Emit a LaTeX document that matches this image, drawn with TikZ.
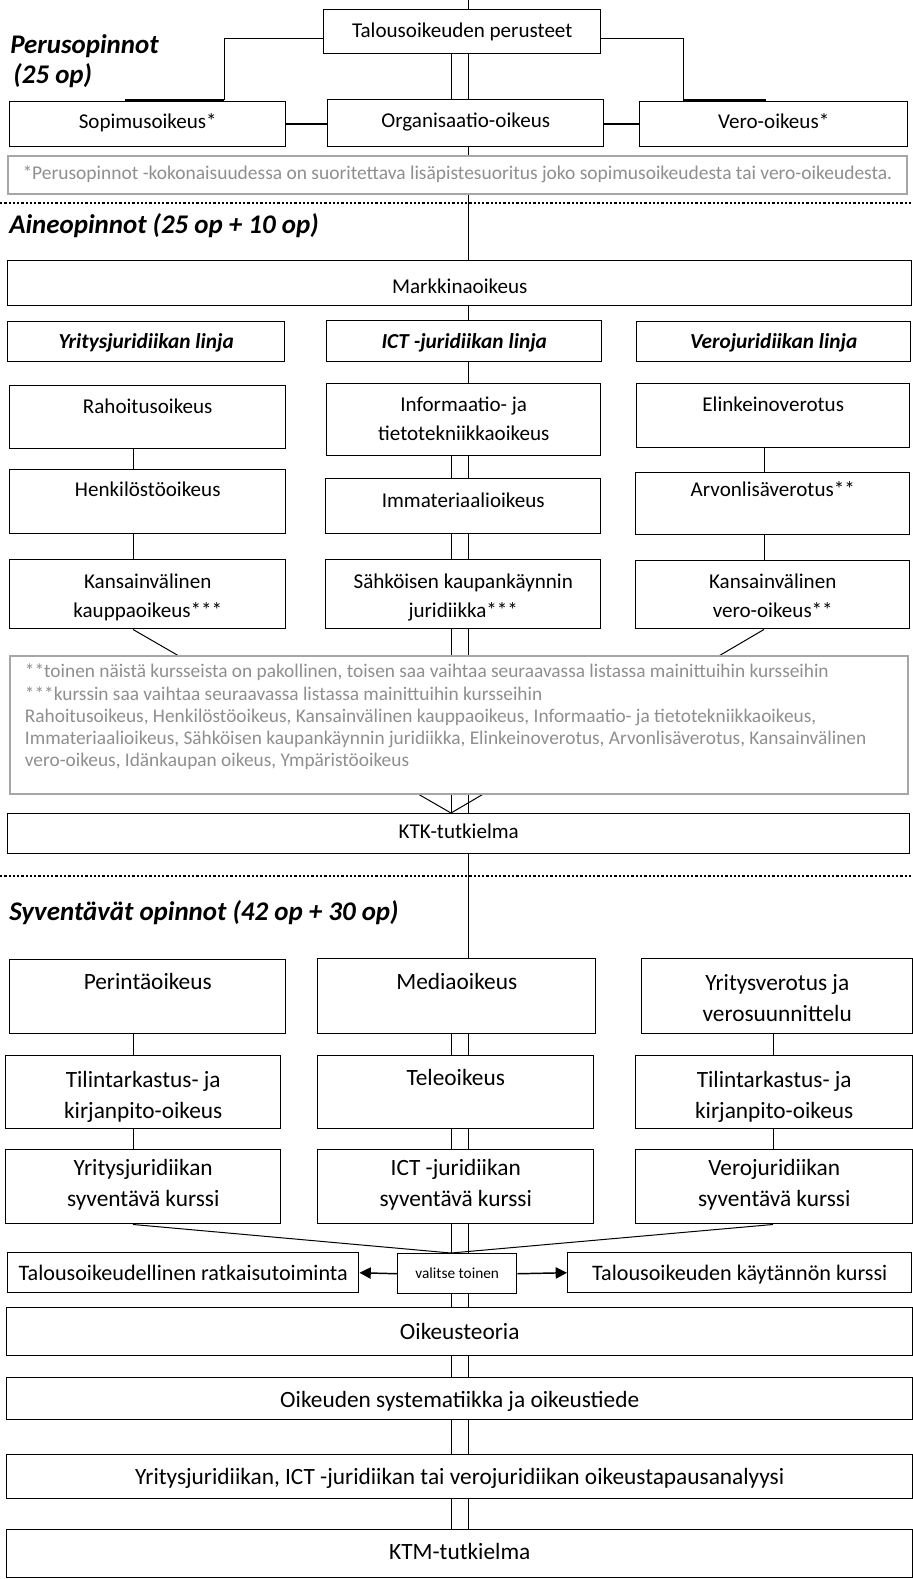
\documentclass[tikz,border=0pt]{standalone}
\usepackage{fontspec}
\setmainfont{Carlito}
\usetikzlibrary{arrows.meta,backgrounds}
\newlength\uu
\setlength\uu{0.75pt}
% box content: width, height, first baseline from top, text
\newcommand\bx[4]{\parbox[c][#2\uu][t]{#1\uu}{\centering\vspace*{\dimexpr#3\uu-0.7\baselineskip\relax}\strut#4\par}}
% left aligned box content: width, height, first baseline, left pad, text
\newcommand\bxl[5]{\parbox[c][#2\uu][t]{#1\uu}{\raggedright\leftskip=#4\uu\vspace*{\dimexpr#3\uu-0.7\baselineskip\relax}\strut#5\par}}
\definecolor{notegray}{HTML}{8F8F8F}
\definecolor{noteborder}{HTML}{A6A6A6}
\tikzset{
  box/.style={draw=black, line width=1.1pt, fill=white, inner sep=0pt, anchor=north west},
  notebox/.style={draw=noteborder, line width=1.4pt, fill=white, inner sep=0pt, anchor=north west, text=notegray},
  aine/.style={font=\fontsize{15.8pt}{21.75pt}\selectfont},
  mid/.style={font=\fontsize{16.6pt}{21.75pt}\selectfont},
  syv/.style={font=\fontsize{17.5pt}{23.25pt}\selectfont},
  linja/.style={font=\fontsize{16pt}{19pt}\selectfont\bfseries\itshape},
  notefont/.style={font=\fontsize{14.6pt}{17pt}\selectfont},
  note2font/.style={font=\fontsize{14.5pt}{16.65pt}\selectfont},
  smallfont/.style={font=\fontsize{11.5pt}{13pt}\selectfont},
  head/.style={font=\fontsize{20.2pt}{24pt}\selectfont\bfseries\itshape, inner sep=0pt, anchor=base west},
  conn/.style={draw=black, line width=0.75pt},
  thickconn/.style={draw=black, line width=1.5pt},
  dotline/.style={draw=black, line width=2pt, dash pattern=on 1.7pt off 1.5pt},
  arr/.style={draw=black, line width=1.1pt, -{Triangle[length=8.5pt,width=8.5pt]}}
}
\begin{document}
\begin{tikzpicture}[x=0.75pt,y=-0.75pt]
\useasboundingbox (0,0) rectangle (913,1579);
% helper coordinates
\coordinate (top) at (468,0);
\coordinate (cL) at (451,0);
\coordinate (cR) at (468,0);
\coordinate (lc) at (133,0);
\coordinate (rc) at (764,0);
\coordinate (rc2) at (773,0);
\coordinate (e1) at (224,38);
\coordinate (e2) at (683,38);
\coordinate (s1) at (125,100);
\coordinate (s2) at (766,100);
\coordinate (d1a) at (0,203);
\coordinate (d1b) at (913,203);
\coordinate (d2a) at (0,876);
\coordinate (d2b) at (913,876);

% headings
\node[head] (h1a) at (10,53) {Perusopinnot};
\node[head] (h1b) at (10,83) {\hspace*{0.12em}(25 op)};
\node[head] (h2) at (9,233) {Aineopinnot (25 op + 10 op)};
\node[head] (h3) at (9,920) {Syventävät opinnot (42 op + 30 op)};

% Perusopinnot
\node[box,aine] (talous) at (323,9) {\bx{277}{44}{28}{Talousoikeuden perusteet}};
\node[box,aine] (sopimus) at (9,101) {\bx{276}{45}{27}{Sopimusoikeus*}};
\node[box,aine] (org) at (327,99) {\bx{276}{47}{28}{Organisaatio-oikeus}};
\node[box,aine] (vero) at (639,101) {\bx{268}{45}{27}{Vero-oikeus*}};
\node[notebox,notefont] (note1) at (7,155) {\bx{899}{38}{24}{*Perusopinnot -kokonaisuudessa on suoritettava lisäpistesuoritus joko sopimusoikeudesta tai vero-oikeudesta.}};

% Aineopinnot
\node[box,aine] (markk) at (7,260) {\bx{904}{45}{33}{Markkinaoikeus}};
\node[box,linja] (lyr) at (7,321) {\bx{277}{40}{27}{Yritysjuridiikan linja}};
\node[box,linja] (lict) at (326,320) {\bx{275}{41}{28}{ICT -juridiikan linja}};
\node[box,linja] (lvero) at (636,321) {\bx{274}{40}{27}{Verojuridiikan linja}};
\node[box,aine] (rah) at (9,385) {\bx{276}{63}{28}{Rahoitusoikeus}};
\node[box,aine] (info) at (326,383) {\bx{274}{72}{28}{Informaatio- ja\\tietotekniikkaoikeus}};
\node[box,aine] (elink) at (636,383) {\bx{273}{64}{28}{Elinkeinoverotus}};
\node[box,aine] (henk) at (9,469) {\bx{276}{64}{27}{Henkilöstöoikeus}};
\node[box,aine] (imm) at (325,478) {\bx{275}{55}{29}{Immateriaalioikeus}};
\node[box,aine] (arvo) at (635,472) {\bx{274}{62}{24}{Arvonlisäverotus**}};
\node[box,aine] (kans) at (9,559) {\bx{276}{69}{29}{Kansainvälinen\\kauppaoikeus***}};
\node[box,aine] (sahk) at (325,559) {\bx{275}{69}{29}{Sähköisen kaupankäynnin\\juridiikka***}};
\node[box,aine] (kvero) at (635,560) {\bx{274}{68}{28}{Kansainvälinen\\vero-oikeus**}};
\node[notebox,note2font] (note2) at (9,655) {\bxl{898}{138}{22}{15}{\mbox{**toinen näistä kursseista on pakollinen, toisen saa vaihtaa seuraavassa listassa mainittuihin kursseihin}\\
\mbox{***kurssin saa vaihtaa seuraavassa listassa mainittuihin kursseihin}\\
\mbox{Rahoitusoikeus, Henkilöstöoikeus, Kansainvälinen kauppaoikeus, Informaatio- ja tietotekniikkaoikeus,}\\
\mbox{Immateriaalioikeus, Sähköisen kaupankäynnin juridiikka, Elinkeinoverotus, Arvonlisäverotus, Kansainvälinen}\\
\mbox{vero-oikeus, Idänkaupan oikeus, Ympäristöoikeus}}};
\node[box,aine] (ktk) at (7,813) {\bx{902}{40}{25}{KTK-tutkielma}};

% Syventavat
\node[box,syv] (per) at (9,959) {\bx{276}{74}{30}{Perintäoikeus}};
\node[box,syv] (media) at (317,958) {\bx{278}{75}{31}{Mediaoikeus}};
\node[box,syv] (yver) at (641,958) {\bx{271}{75}{32}{Yritysverotus ja\\verosuunnittelu}};
\node[box,syv] (tilL) at (5,1055) {\bx{275}{73}{32}{Tilintarkastus- ja\\kirjanpito-oikeus}};
\node[box,syv] (tele) at (317,1055) {\bx{276}{73}{30}{Teleoikeus}};
\node[box,syv] (tilR) at (635,1055) {\bx{277}{73}{32}{Tilintarkastus- ja\\kirjanpito-oikeus}};
\node[box,syv] (syvY) at (5,1149) {\bx{275}{74}{26}{Yritysjuridiikan\\syventävä kurssi}};
\node[box,syv] (syvI) at (317,1149) {\bx{276}{74}{26}{ICT -juridiikan\\syventävä kurssi}};
\node[box,syv] (syvV) at (635,1149) {\bx{277}{74}{26}{Verojuridiikan\\syventävä kurssi}};
\node[box,mid] (ratk) at (7,1252) {\bx{351}{40}{28}{Talousoikeudellinen ratkaisutoiminta}};
\node[box,smallfont] (valitse) at (397,1253) {\bx{119}{40}{25}{valitse toinen}};
\node[box,mid] (kayt) at (567,1252) {\bx{344}{40}{28}{Talousoikeuden käytännön kurssi}};
\node[box,syv] (teoria) at (6,1307) {\bx{906}{48}{32}{Oikeusteoria}};
\node[box,syv] (syst) at (6,1377) {\bx{906}{42}{30}{Oikeuden systematiikka ja oikeustiede}};
\node[box,syv] (anal) at (6,1454) {\bx{906}{44}{30}{Yritysjuridiikan, ICT -juridiikan tai verojuridiikan oikeustapausanalyysi}};
\node[box,syv] (ktm) at (6,1529) {\bx{906}{48}{30}{KTM-tutkielma}};

% separators
\draw[dotline] (d1a) -- (d1b);
\draw[dotline] (d2a) -- (d2b);

% arrows
\draw[arr] (valitse.west) -- (ratk.east);
\draw[arr] (valitse.east) -- (kayt.west);

\begin{scope}[on background layer]
% Perusopinnot connectors
\draw[conn] (top) -- (top |- talous.north);
\draw[conn] (talous.south -| cL) -- (org.north -| cL);
\draw[conn] (talous.south -| cR) -- (org.north -| cR);
\draw[conn] (talous.west |- e1) -- (e1) -- (e1 |- s1);
\draw[thickconn] (s1) -- (s1 -| e1);
\draw[conn] (talous.east |- e2) -- (e2) -- (e2 |- s2);
\draw[thickconn] (s2) -- (s2 -| e2);
\draw[thickconn] (sopimus.east) -- (sopimus.east -| org.west);
\draw[thickconn] (org.east |- vero.east) -- (vero.east);
\draw[conn] (org.south -| cR) -- (markk.north -| cR);
% Aineopinnot connectors
\draw[conn] (markk.south -| cR) -- (lict.north -| cR);
\draw[conn] (lict.south -| cR) -- (info.north -| cR);
\draw[conn] (info.south -| cL) -- (imm.north -| cL);
\draw[conn] (info.south -| cR) -- (imm.north -| cR);
\draw[conn] (imm.south -| cL) -- (sahk.north -| cL);
\draw[conn] (imm.south -| cR) -- (sahk.north -| cR);
\draw[conn] (sahk.south -| cL) -- (ktk.north -| cL);
\draw[conn] (sahk.south -| cR) -- (ktk.north -| cR);
\draw[conn] (rah.south -| lc) -- (henk.north -| lc);
\draw[conn] (henk.south -| lc) -- (kans.north -| lc);
\draw[conn] (elink.south -| rc) -- (arvo.north -| rc);
\draw[conn] (arvo.south -| rc) -- (kvero.north -| rc);
\draw[conn] (kans.south -| lc) -- (ktk.north -| cL);
\draw[conn] (kvero.south -| rc) -- (ktk.north -| cL);
% Syventavat connectors
\draw[conn] (ktk.south -| cR) -- (media.north -| cR);
\draw[conn] (per.south -| lc) -- (tilL.north -| lc);
\draw[conn] (tilL.south -| lc) -- (syvY.north -| lc);
\draw[conn] (yver.south -| rc2) -- (tilR.north -| rc2);
\draw[conn] (tilR.south -| rc2) -- (syvV.north -| rc2);
\draw[conn] (media.south -| cL) -- (tele.north -| cL);
\draw[conn] (media.south -| cR) -- (tele.north -| cR);
\draw[conn] (tele.south -| cL) -- (syvI.north -| cL);
\draw[conn] (tele.south -| cR) -- (syvI.north -| cR);
\draw[conn] (syvI.south -| cL) -- (valitse.north -| cL);
\draw[conn] (syvI.south -| cR) -- (valitse.north -| cR);
\draw[conn] (syvY.south -| lc) -- (valitse.north -| cL);
\draw[conn] (syvV.south -| rc2) -- (valitse.north -| cL);
\draw[conn] (valitse.south -| cL) -- (teoria.north -| cL);
\draw[conn] (valitse.south -| cR) -- (teoria.north -| cR);
\draw[conn] (teoria.south -| cL) -- (syst.north -| cL);
\draw[conn] (teoria.south -| cR) -- (syst.north -| cR);
\draw[conn] (syst.south -| cL) -- (anal.north -| cL);
\draw[conn] (syst.south -| cR) -- (anal.north -| cR);
\draw[conn] (anal.south -| cL) -- (ktm.north -| cL);
\draw[conn] (anal.south -| cR) -- (ktm.north -| cR);
\end{scope}
\end{tikzpicture}
\end{document}
